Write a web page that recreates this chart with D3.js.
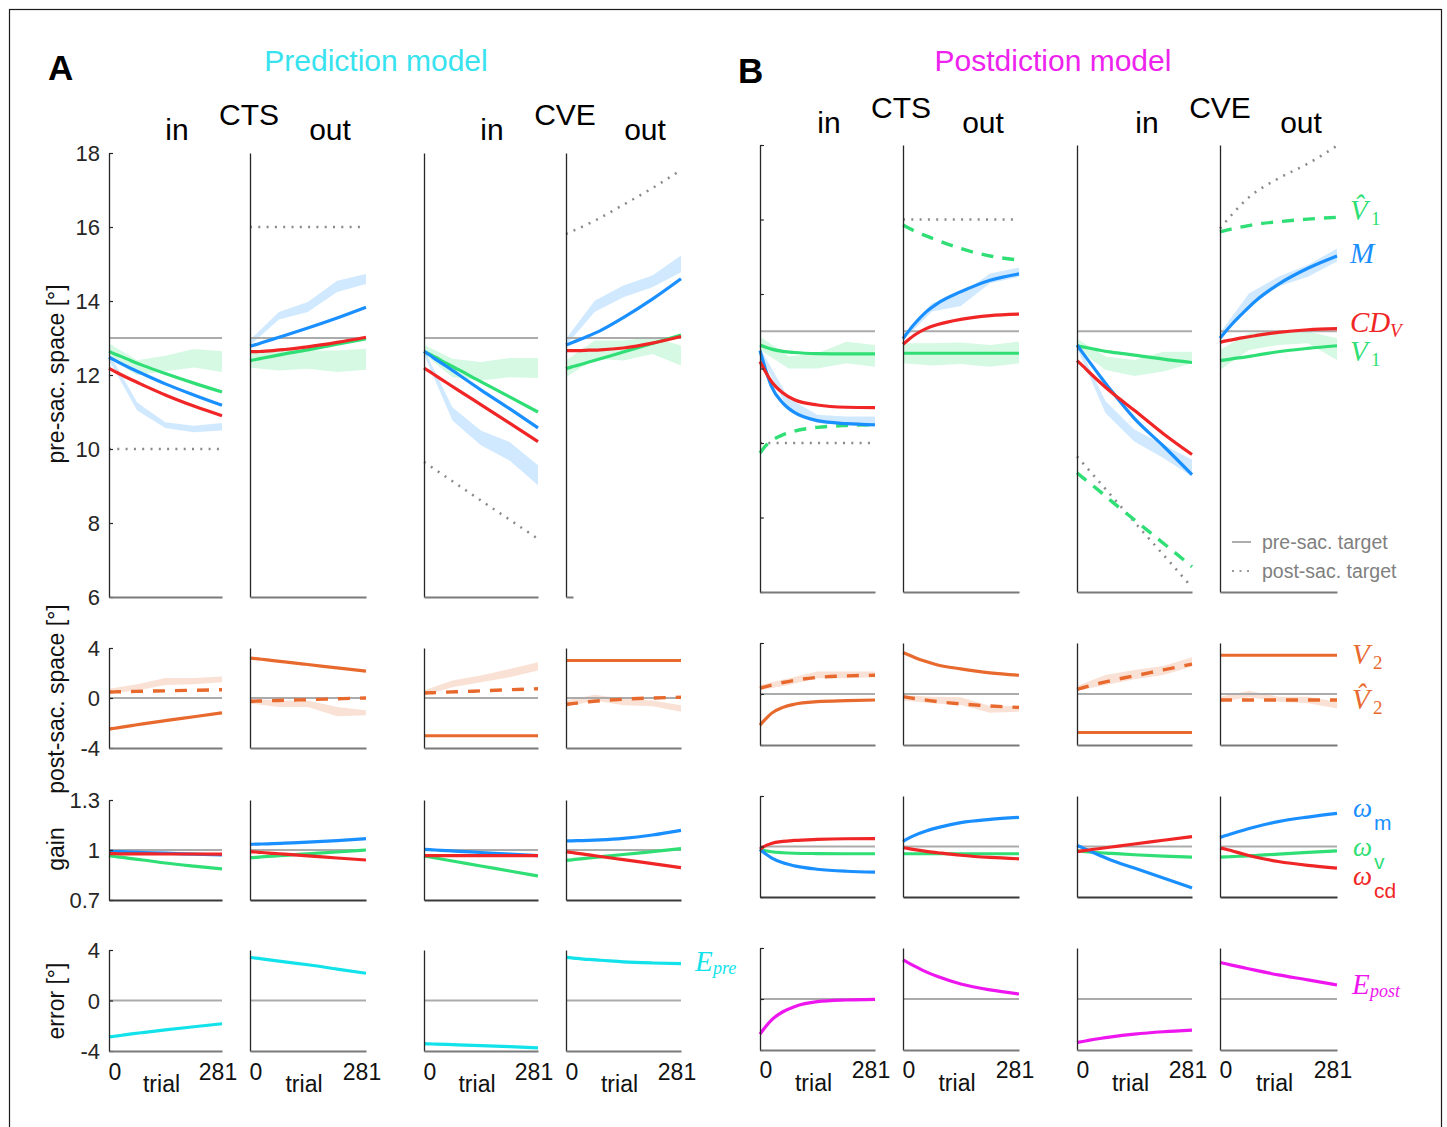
<!DOCTYPE html>
<html><head><meta charset="utf-8">
<script src="https://cdn.jsdelivr.net/npm/d3@7"></script>
<style>
body{margin:0;background:#fff}
svg{display:block}
</style>
</head><body>
<svg id="c" width="1447" height="1127"></svg>
<script>
// ---------------- DATA ----------------
const trialDomain = [0, 281];
const trialTicks = [0, 281];
const curveTrials = [0, 14, 28, 56, 84, 140, 211, 281];
const bandTrials = [0, 70, 140, 211, 281];
const conditions = ["CTS", "CVE", "CTS", "CVE"];
const sides = ["in", "out"];
const rowTicks = [[6, 8, 10, 12, 14, 16, 18], [-4, 0, 4], [0.7, 1, 1.3], [-4, 0, 4]];
const rowDomain = [[6, 18], [-4, 4], [0.7, 1.3], [-4, 4]];
const rowRef = [null, 0, 1, 0];
const rowLabels = ["pre-sac. space [°]", "post-sac. space [°]", "gain", "error [°]"];

// pre-saccadic space (columns: A CTS in, A CTS out, A CVE in, A CVE out, B CTS in, B CTS out, B CVE in, B CVE out)
const preTarget = [13, 13, 13, 13, 13, 13, 13, 13];
const postTarget = [
  [10, 10, 10, 10, 10],
  [16, 16, 16, 16, 16],
  [9.65, 9.13, 8.61, 8.09, 7.57],
  [15.81, 16.17, 16.6, 17.05, 17.54],
  [10, 10, 10, 10, 10],
  [16, 16, 16, 16, 16],
  [9.64, 8.76, 7.88, 7.0, 6.12],
  [15.76, 16.6, 17.1, 17.5, 17.98]
];
const preM = [
  [12.48, 12.40, 12.32, 12.17, 12.03, 11.76, 11.46, 11.18],
  [12.78, 12.82, 12.87, 12.97, 13.07, 13.27, 13.54, 13.83],
  [12.64, 12.54, 12.43, 12.23, 12.02, 11.60, 11.09, 10.57],
  [12.81, 12.87, 12.93, 13.06, 13.20, 13.55, 14.05, 14.60],
  [12.48, 11.96, 11.52, 11.07, 10.82, 10.60, 10.52, 10.49],
  [12.80, 13.01, 13.20, 13.52, 13.75, 14.06, 14.37, 14.54],
  [12.63, 12.42, 12.21, 11.80, 11.40, 10.66, 9.92, 9.15],
  [12.81, 13.00, 13.18, 13.50, 13.80, 14.26, 14.69, 15.02]
];
const preCD = [
  [12.18, 12.10, 12.02, 11.87, 11.73, 11.46, 11.16, 10.90],
  [12.63, 12.63, 12.64, 12.66, 12.69, 12.76, 12.88, 13.02],
  [12.19, 12.09, 11.99, 11.79, 11.59, 11.20, 10.70, 10.20],
  [12.66, 12.66, 12.66, 12.67, 12.68, 12.73, 12.86, 13.04],
  [12.19, 11.90, 11.65, 11.34, 11.16, 11.02, 10.96, 10.95],
  [12.65, 12.78, 12.90, 13.07, 13.18, 13.32, 13.42, 13.46],
  [12.21, 12.07, 11.92, 11.63, 11.36, 10.88, 10.25, 9.69],
  [12.70, 12.74, 12.77, 12.83, 12.88, 12.97, 13.04, 13.07]
];
const preV1 = [
  [12.64, 12.57, 12.51, 12.38, 12.26, 12.04, 11.78, 11.54],
  [12.39, 12.42, 12.45, 12.51, 12.57, 12.68, 12.83, 12.98],
  [12.64, 12.56, 12.48, 12.31, 12.15, 11.82, 11.41, 11.00],
  [12.17, 12.22, 12.26, 12.35, 12.44, 12.62, 12.85, 13.08],
  [12.63, 12.57, 12.52, 12.46, 12.43, 12.40, 12.39, 12.39],
  [12.41, 12.41, 12.41, 12.41, 12.41, 12.41, 12.41, 12.41],
  [12.61, 12.58, 12.55, 12.49, 12.44, 12.36, 12.25, 12.16],
  [12.21, 12.23, 12.26, 12.30, 12.35, 12.45, 12.54, 12.61]
];
const preV1hat = [null, null, null, null,
  [9.73, 9.93, 10.06, 10.22, 10.32, 10.42, 10.47, 10.49],
  [15.85, 15.77, 15.69, 15.56, 15.44, 15.22, 15.02, 14.91],
  [9.20, 9.07, 8.95, 8.70, 8.44, 7.94, 7.31, 6.68],
  [15.67, 15.71, 15.75, 15.81, 15.87, 15.94, 16.01, 16.06]
];
const preMBandHi = [
  [12.60, 11.26, 10.72, 10.63, 10.70],
  [12.95, 13.70, 13.97, 14.55, 14.73],
  [12.70, 11.13, 10.50, 10.19, 9.56],
  [12.98, 14.01, 14.42, 14.69, 15.23],
  [12.55, 11.20, 10.76, 10.71, 10.71],
  [12.90, 13.75, 14.00, 14.55, 14.71],
  [12.70, 11.12, 10.36, 9.96, 9.55],
  [12.95, 14.02, 14.46, 14.78, 15.22]
];
const preMBandLo = [
  [12.40, 11.04, 10.57, 10.45, 10.50],
  [12.80, 13.50, 13.70, 14.24, 14.46],
  [12.55, 10.77, 10.10, 9.69, 9.02],
  [12.80, 13.70, 14.10, 14.37, 14.78],
  [12.40, 10.85, 10.54, 10.49, 10.43],
  [12.75, 13.53, 13.68, 14.29, 14.46],
  [12.55, 10.80, 10.04, 9.60, 9.10],
  [12.78, 13.66, 14.20, 14.46, 14.87]
];
const preV1BandHi = [
  [12.85, 12.40, 12.52, 12.70, 12.64],
  [12.60, 12.71, 12.66, 12.66, 12.71],
  [12.82, 12.44, 12.35, 12.46, 12.46],
  [12.39, 12.93, 12.93, 13.02, 12.80],
  [12.86, 12.32, 12.41, 12.72, 12.63],
  [12.68, 12.68, 12.70, 12.63, 12.72],
  [12.80, 12.32, 12.23, 12.45, 12.45],
  [12.50, 12.95, 12.99, 12.99, 12.81]
];
const preV1BandLo = [
  [12.45, 12.00, 12.10, 12.20, 12.08],
  [12.20, 12.12, 12.17, 12.08, 12.14],
  [12.57, 11.94, 11.85, 11.94, 11.92],
  [11.94, 12.44, 12.39, 12.57, 12.26],
  [12.50, 12.00, 12.00, 12.14, 12.05],
  [12.14, 12.08, 12.12, 12.05, 12.14],
  [12.54, 11.96, 11.80, 11.92, 12.14],
  [11.96, 12.50, 12.63, 12.68, 12.23]
];

// post-saccadic space
const postV2 = [
  [-2.49, -2.42, -2.35, -2.21, -2.07, -1.81, -1.50, -1.19],
  [3.20, 3.15, 3.10, 2.99, 2.89, 2.68, 2.41, 2.15],
  [-3.02, -3.02, -3.02, -3.02, -3.02, -3.02, -3.02, -3.02],
  [3.00, 3.00, 3.00, 3.00, 3.00, 3.00, 3.00, 3.00],
  [-2.44, -1.95, -1.52, -1.05, -0.80, -0.60, -0.52, -0.47],
  [3.25, 3.06, 2.87, 2.55, 2.28, 1.97, 1.66, 1.47],
  [-3.02, -3.02, -3.02, -3.02, -3.02, -3.02, -3.02, -3.02],
  [3.04, 3.04, 3.04, 3.04, 3.04, 3.04, 3.04, 3.04]
];
const postV2hat = [
  [0.48, 0.49, 0.50, 0.52, 0.54, 0.57, 0.62, 0.66],
  [-0.26, -0.25, -0.24, -0.21, -0.18, -0.13, -0.06, 0.00],
  [0.40, 0.42, 0.43, 0.47, 0.50, 0.57, 0.66, 0.74],
  [-0.50, -0.45, -0.40, -0.30, -0.22, -0.10, 0.00, 0.06],
  [0.45, 0.58, 0.70, 0.90, 1.07, 1.30, 1.42, 1.47],
  [-0.21, -0.28, -0.35, -0.48, -0.60, -0.78, -0.94, -1.05],
  [0.37, 0.49, 0.61, 0.85, 1.06, 1.42, 1.89, 2.34],
  [-0.47, -0.47, -0.47, -0.47, -0.47, -0.47, -0.47, -0.47]
];
const postBandHi = [
  [0.75, 1.10, 1.60, 1.60, 1.72],
  [-0.05, -0.19, -0.19, -0.72, -0.98],
  [0.60, 1.40, 1.80, 2.33, 2.86],
  [-0.19, 0.26, -0.05, -0.19, -0.58],
  [0.70, 1.23, 1.76, 1.76, 1.76],
  [-0.10, -0.21, -0.26, -0.94, -0.94],
  [0.62, 1.50, 1.89, 2.20, 2.89],
  [-0.21, 0.26, -0.21, -0.21, -0.60]
];
const postBandLo = [
  [0.35, 0.60, 1.05, 1.10, 1.27],
  [-0.45, -0.72, -0.72, -1.46, -1.38],
  [0.20, 0.87, 1.27, 1.67, 2.20],
  [-0.72, -0.19, -0.58, -0.66, -1.10],
  [0.30, 0.71, 1.23, 1.23, 1.31],
  [-0.50, -0.73, -0.87, -1.47, -1.39],
  [0.26, 0.71, 1.15, 1.50, 2.15],
  [-0.60, -0.26, -0.60, -0.73, -1.13]
];

// gains
const gainM = [
  [0.992, 0.991, 0.990, 0.987, 0.985, 0.981, 0.975, 0.970],
  [1.034, 1.035, 1.036, 1.038, 1.041, 1.047, 1.056, 1.068],
  [1.004, 1.002, 1.000, 0.996, 0.992, 0.985, 0.975, 0.966],
  [1.054, 1.055, 1.056, 1.058, 1.061, 1.070, 1.090, 1.118],
  [0.984, 0.955, 0.933, 0.903, 0.885, 0.865, 0.853, 0.848],
  [1.030, 1.050, 1.066, 1.092, 1.112, 1.142, 1.161, 1.173],
  [1.006, 0.992, 0.977, 0.947, 0.918, 0.872, 0.813, 0.754],
  [1.053, 1.065, 1.076, 1.097, 1.116, 1.148, 1.175, 1.197]
];
const gainCD = [
  [0.978, 0.978, 0.977, 0.977, 0.977, 0.976, 0.976, 0.975],
  [0.990, 0.988, 0.985, 0.980, 0.975, 0.965, 0.952, 0.940],
  [0.966, 0.966, 0.966, 0.966, 0.966, 0.966, 0.966, 0.966],
  [0.990, 0.985, 0.980, 0.971, 0.961, 0.942, 0.918, 0.894],
  [0.984, 1.005, 1.018, 1.030, 1.036, 1.042, 1.046, 1.047],
  [0.994, 0.987, 0.981, 0.971, 0.963, 0.948, 0.935, 0.927],
  [0.970, 0.974, 0.979, 0.988, 0.997, 1.015, 1.037, 1.059],
  [0.990, 0.984, 0.975, 0.955, 0.938, 0.911, 0.888, 0.872]
];
const gainV = [
  [0.966, 0.961, 0.957, 0.948, 0.940, 0.922, 0.903, 0.886],
  [0.954, 0.956, 0.959, 0.963, 0.968, 0.977, 0.988, 1.000],
  [0.964, 0.958, 0.952, 0.940, 0.928, 0.904, 0.874, 0.844],
  [0.938, 0.941, 0.945, 0.952, 0.959, 0.973, 0.990, 1.008],
  [0.984, 0.975, 0.969, 0.963, 0.960, 0.958, 0.957, 0.957],
  [0.957, 0.957, 0.957, 0.957, 0.957, 0.957, 0.957, 0.957],
  [0.974, 0.971, 0.968, 0.963, 0.959, 0.951, 0.943, 0.937],
  [0.937, 0.938, 0.940, 0.943, 0.946, 0.955, 0.965, 0.974]
];

// error
const errorE = [
  [-2.89, -2.83, -2.77, -2.65, -2.54, -2.33, -2.08, -1.84],
  [3.42, 3.36, 3.30, 3.18, 3.06, 2.83, 2.49, 2.16],
  [-3.42, -3.44, -3.45, -3.48, -3.51, -3.57, -3.66, -3.76],
  [3.42, 3.37, 3.33, 3.25, 3.19, 3.06, 2.97, 2.92],
  [-2.76, -2.15, -1.65, -1.00, -0.60, -0.21, -0.08, -0.03],
  [3.07, 2.82, 2.58, 2.13, 1.76, 1.18, 0.71, 0.39],
  [-3.41, -3.33, -3.25, -3.10, -2.97, -2.76, -2.57, -2.44],
  [2.86, 2.76, 2.66, 2.46, 2.26, 1.89, 1.50, 1.10]
];

// ---------------- STYLE / LAYOUT ----------------
const C = {
  green: "#2fdf75", blue: "#1a8fff", red: "#f02525", orange: "#e8692d",
  cyan: "#12e2ea", magenta: "#ee16ee", gray: "#ababab", dot: "#8a8a8a"
};
const colX = [[109, 222], [250, 366], [424, 538], [566, 681], [760, 875], [903, 1019], [1077, 1192], [1220, 1337]];
const rowY = {
  A: [[153, 597], [648, 748], [800, 900], [950, 1051]],
  B: [[145, 592], [643, 745], [796, 897], [948, 1050]]
};
const SERIF = "'Liberation Serif','Times New Roman',serif";
const SANS = "'Liberation Sans',Arial,Helvetica,sans-serif";

const svg = d3.select("#c").style("font-family", SANS);
svg.append("rect").attr("x", 9.5).attr("y", 9.5).attr("width", 1432).attr("height", 1140)
  .attr("fill", "none").attr("stroke", "#1a1a1a").attr("stroke-width", 1.2);

function txt(x, y, s, o = {}) {
  const t = svg.append("text").attr("x", x).attr("y", y).text(s)
    .attr("font-size", o.size || 22).attr("fill", o.fill || "#000")
    .attr("text-anchor", o.anchor || "start")
    .style("font-family", o.family || SANS);
  if (o.italic) t.style("font-style", "italic");
  if (o.bold) t.style("font-weight", "bold");
  if (o.rotate) t.attr("transform", `rotate(-90,${x},${y})`);
  return t;
}

function drawPanel(c, r) {
  const blk = c < 4 ? "A" : "B";
  const [top, bottom] = rowY[blk][r];
  const [x0, x1] = colX[c];
  const x = d3.scaleLinear().domain(trialDomain).range([x0, x1]);
  const y = d3.scaleLinear().domain(rowDomain[r]).range([bottom, top]);
  const g = svg.append("g");
  const lineOf = (vals, ts, curve) => d3.line().x((d, i) => x(ts[i])).y(d => y(d))
    .curve(curve || d3.curveMonotoneX)(vals);
  const areaOf = (lo, hi, ts) => d3.area().x((d, i) => x(ts[i])).y0((d, i) => y(lo[i])).y1(d => y(d))(hi);
  const path = (d, stroke, w, dash) => {
    const p = g.append("path").attr("d", d).attr("fill", "none").attr("stroke", stroke)
      .attr("stroke-width", w).attr("stroke-linejoin", "round");
    if (dash) p.attr("stroke-dasharray", dash);
    return p;
  };
  const band = (lo, hi, color) => g.append("path").attr("d", areaOf(lo, hi, bandTrials))
    .attr("fill", color).attr("fill-opacity", 0.2).attr("stroke", "none");
  const flat = v => d3.line().x(d => x(d)).y(() => y(v))(trialDomain);

  if (r === 0) {
    band(preMBandLo[c], preMBandHi[c], C.blue);
    band(preV1BandLo[c], preV1BandHi[c], C.green);
    path(flat(preTarget[c]), C.gray, 2);
    path(lineOf(postTarget[c], bandTrials), C.dot, 2.5, "2 6.3");
    if (preV1hat[c]) path(lineOf(preV1hat[c], curveTrials), C.green, 3.4, "12 9");
    path(lineOf(preV1[c], curveTrials), C.green, 3.2);
    path(lineOf(preM[c], curveTrials), C.blue, 3.2);
    path(lineOf(preCD[c], curveTrials), C.red, 3.2);
  } else if (r === 1) {
    band(postBandLo[c], postBandHi[c], C.orange);
    path(flat(rowRef[r]), C.gray, 2);
    path(lineOf(postV2[c], curveTrials), C.orange, 3.2);
    path(lineOf(postV2hat[c], curveTrials), C.orange, 3.4, "12 10");
  } else if (r === 2) {
    path(flat(rowRef[r]), C.gray, 2);
    path(lineOf(gainV[c], curveTrials), C.green, 3.2);
    path(lineOf(gainM[c], curveTrials), C.blue, 3.2);
    path(lineOf(gainCD[c], curveTrials), C.red, 3.2);
  } else {
    path(flat(rowRef[r]), C.gray, 2);
    path(lineOf(errorE[c], curveTrials), c < 4 ? C.cyan : C.magenta, 3.2);
  }

  // left axis
  const withTicks = (c === 0 || c === 4);
  const ya = d3.axisLeft(y).tickValues(withTicks ? rowTicks[r] : []).tickSizeInner(-4)
    .tickSizeOuter(0).tickPadding(9).tickFormat(c === 0 ? (d => String(d)) : (() => ""));
  const ga = g.append("g").attr("transform", `translate(${x0},0)`).call(ya);
  ga.attr("font-size", 22).attr("font-family", null).style("font-family", SANS);
  ga.select(".domain").attr("stroke", "#262626").attr("stroke-width", 1.3);
  ga.selectAll(".tick line").attr("stroke", "#262626").attr("stroke-width", 1.2);
  ga.selectAll(".tick text").attr("fill", "#262626").attr("dy", "0.36em");

  // bottom axis (panel A CVE-out pre-sac axis is only a stub in the original)
  const xr = (r === 0 && c === 3) ? [x0, x0 + 7] : [x0, x1];
  const xs = d3.scaleLinear().domain(trialDomain).range(xr);
  const xa = d3.axisBottom(xs).tickValues([]).tickSizeOuter(0);
  const gx = g.append("g").attr("transform", `translate(0,${bottom})`).call(xa);
  gx.select(".domain").attr("stroke", r === 2 ? "#3a3a3a" : "#7a7a7a").attr("stroke-width", 2);

  if (r === 3) {
    const ly = bottom + (blk === "A" ? 29 : 28);
    txt(x(trialTicks[0]) + 6, ly, String(trialTicks[0]), { size: 23, anchor: "middle", fill: "#111" });
    txt(x(trialTicks[1]) - 4, ly, String(trialTicks[1]), { size: 23, anchor: "middle", fill: "#111" });
    txt((x0 + x1) / 2 - 4, bottom + 41, "trial", { size: 23, anchor: "middle", fill: "#111" });
  }
}

for (let r = 0; r < 4; r++) for (let c = 0; c < 8; c++) drawPanel(c, r);

// y axis labels
txt(64, 374, rowLabels[0], { size: 23, anchor: "middle", rotate: true, fill: "#111" });
txt(64, 699, rowLabels[1], { size: 23, anchor: "middle", rotate: true, fill: "#111" });
txt(64, 849, rowLabels[2], { size: 23, anchor: "middle", rotate: true, fill: "#111" });
txt(64, 1001, rowLabels[3], { size: 23, anchor: "middle", rotate: true, fill: "#111" });

// headers
txt(48, 80, "A", { size: 35, bold: true });
txt(738, 83, "B", { size: 35, bold: true });
txt(376, 71, "Prediction model", { size: 30, anchor: "middle", fill: "#38e2ee" });
txt(1053, 71, "Postdiction model", { size: 30, anchor: "middle", fill: "#ee22ee" });
const headA = [[177, 140, sides[0]], [249, 125, conditions[0]], [330, 140, sides[1]],
               [492, 140, sides[0]], [565, 125, conditions[1]], [645, 140, sides[1]]];
const headB = [[829, 133, sides[0]], [901, 118, conditions[2]], [983, 133, sides[1]],
               [1147, 133, sides[0]], [1220, 118, conditions[3]], [1301, 133, sides[1]]];
headA.concat(headB).forEach(([hx, hy, s]) => txt(hx, hy, s, { size: 30, anchor: "middle" }));

// right-side series labels (one text element each; hat as combining circumflex)
function mathLabel(x, yb, main, sub, color, opts = {}) {
  const t = svg.append("text").attr("x", x).attr("y", yb).attr("fill", color)
    .style("font-family", SERIF);
  t.append("tspan").attr("font-size", 29).style("font-style", "italic")
    .text(opts.hat ? main + "\u0302" : main);
  if (sub) t.append("tspan").attr("x", x + (opts.subDx || 21)).attr("y", yb + (opts.subDy || 5))
    .attr("font-size", opts.subSize || 19)
    .style("font-style", opts.subItalic ? "italic" : "normal").text(sub);
}
mathLabel(1350, 220, "V", "1", C.green, { hat: true });
mathLabel(1350, 263, "M", null, C.blue);
mathLabel(1350, 332, "CD", "V", C.red, { subDx: 40, subItalic: true });
mathLabel(1350, 361, "V", "1", C.green);
mathLabel(1352, 664, "V", "2", C.orange);
mathLabel(1352, 709, "V", "2", C.orange, { hat: true });
mathLabel(695, 971, "E", "pre", C.cyan, { subDx: 18, subDy: 3, subItalic: true, subSize: 18 });
mathLabel(1352, 994, "E", "post", C.magenta, { subDx: 18, subDy: 3, subItalic: true, subSize: 18 });
// gains
[[817, "m", C.blue], [856, "v", C.green], [885, "cd", C.red]].forEach(([yb, s, col]) => {
  const t = svg.append("text").attr("x", 1353).attr("y", yb).attr("fill", col);
  t.append("tspan").attr("font-size", 27).style("font-family", SERIF).style("font-style", "italic").text("ω");
  t.append("tspan").attr("x", 1374).attr("y", yb + 13).attr("font-size", 21).style("font-family", SANS).text(s);
});

// legend
svg.append("line").attr("x1", 1232).attr("x2", 1251).attr("y1", 542).attr("y2", 542)
  .attr("stroke", "#999").attr("stroke-width", 1.6);
svg.append("line").attr("x1", 1232).attr("x2", 1251).attr("y1", 571).attr("y2", 571)
  .attr("stroke", "#999").attr("stroke-width", 1.8).attr("stroke-dasharray", "2 5.5");
txt(1262, 549, "pre-sac. target", { size: 19.5, fill: "#808080" });
txt(1262, 578, "post-sac. target", { size: 19.5, fill: "#808080" });
</script>
</body></html>
